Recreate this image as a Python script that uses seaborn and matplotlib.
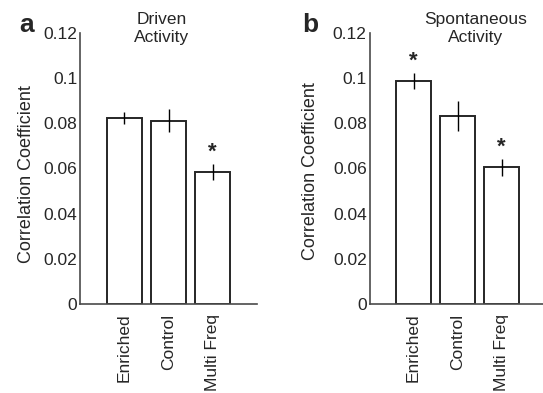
import pandas as pd
import matplotlib.pyplot as plt
import seaborn as sns

# values
groups = ["Enriched", "Control", "Multi Freq"]
driven_mean = [0.0825, 0.0812, 0.0586]
driven_err = [0.0026, 0.0052, 0.0035]
driven_sig = [False, False, True]
spont_mean = [0.0988, 0.0831, 0.0605]
spont_err = [0.0035, 0.0066, 0.0037]
spont_sig = [True, False, True]
yticks = [0, 0.02, 0.04, 0.06, 0.08, 0.1, 0.12]
ytick_labels = ["0", "0.02", "0.04", "0.06", "0.08", "0.1", "0.12"]


def draw_panel(ax, means, errs, sig, title, title_x, letter, letter_x, ylab_xy):
    df = pd.DataFrame({"group": groups, "value": means})
    sns.barplot(data=df, x="group", y="value", ax=ax, color="white",
                edgecolor="#262626", linewidth=1.4, width=0.8,
                errorbar=None, saturation=1)
    xs = list(range(len(groups)))
    ax.errorbar(xs, means, yerr=errs, fmt="none", ecolor="black",
                elinewidth=1.0, capsize=0)
    for x, m, e, s in zip(xs, means, errs, sig):
        if s:
            ax.text(x, m + e + 0.0052, "*", ha="center", va="center",
                    fontsize=16, fontweight="bold")
    ax.set_xlim(-1, 3)
    ax.set_ylim(0, 0.12)
    ax.set_yticks(yticks)
    ax.set_yticklabels(ytick_labels)
    ax.set_xticks(xs)
    ax.set_xticklabels(groups, rotation=90, va="top", ha="center")
    ax.tick_params(axis="y", direction="in", length=3, width=1,
                   color="#4a4a4a", labelsize=12.5, pad=2)
    ax.tick_params(axis="x", length=0, labelsize=12.5, pad=7)
    ax.set_xlabel("")
    ax.set_ylabel("Correlation Coefficient", fontsize=13)
    ax.yaxis.set_label_coords(*ylab_xy)
    for side in ["top", "right"]:
        ax.spines[side].set_visible(False)
    for side in ["left", "bottom"]:
        ax.spines[side].set_color("#4a4a4a")
        ax.spines[side].set_linewidth(1.2)
    ax.text(title_x, 1.078, title, transform=ax.transAxes, ha="center",
            va="top", fontsize=12.5, linespacing=1.3)
    ax.text(letter_x, 1.075, letter, transform=ax.transAxes, ha="left",
            va="top", fontsize=19, fontweight="bold")


sns.set_theme(style="white")
plt.rcParams["font.family"] = ["Liberation Sans", "DejaVu Sans"]

fig = plt.figure(figsize=(5.43, 3.93), dpi=100)
ax_a = fig.add_axes([80 / 543, 89 / 393, 177 / 543, 271 / 393])
ax_b = fig.add_axes([369.5 / 543, 89 / 393, 176 / 543, 271 / 393])

draw_panel(ax_a, driven_mean, driven_err, driven_sig, "Driven\nActivity",
           0.463, "a", -0.345, (-0.257, 0.48))
draw_panel(ax_b, spont_mean, spont_err, spont_sig, "Spontaneous\nActivity",
           0.605, "b", -0.385, (-0.286, 0.489))

fig.savefig("out.png", dpi=100)
